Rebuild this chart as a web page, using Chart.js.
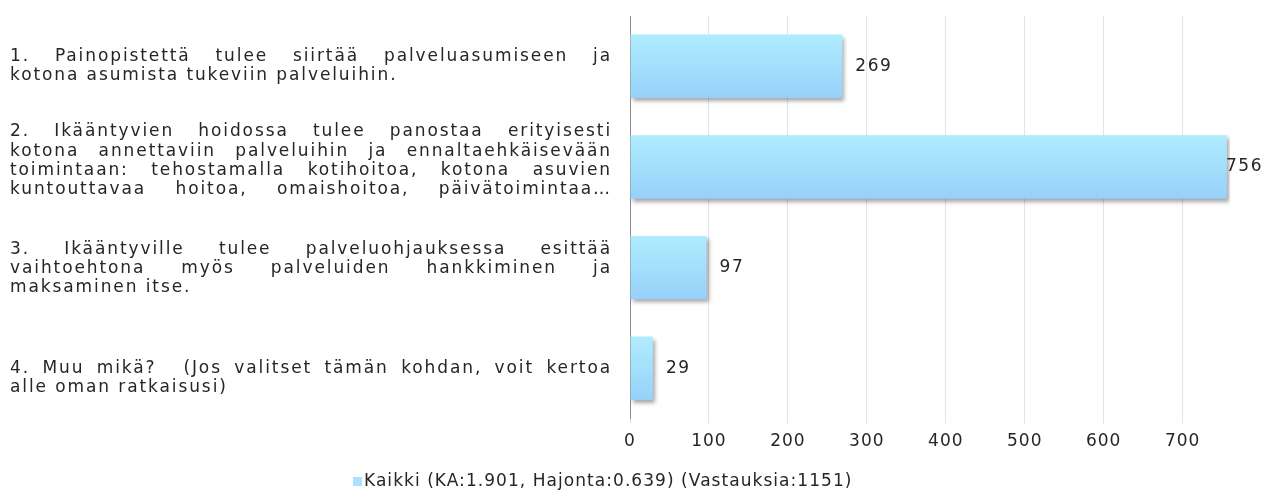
<!DOCTYPE html>
<html>
<head>
<meta charset="utf-8">
<script src="https://cdn.jsdelivr.net/npm/chart.js@4"></script>
<style>
  html, body { margin: 0; padding: 0; background: #fff; }
  #wrap { width: 1262px; height: 491px; }
</style>
</head>
<body>
<div id="wrap"><canvas id="chart"></canvas></div>
<script>
// category labels, one array of lines per answer option (as wrapped in the original)
const labelLines = [
    ['1. Painopistettä tulee siirtää palveluasumiseen ja',
     'kotona asumista tukeviin palveluihin.'],
    ['2. Ikääntyvien hoidossa tulee panostaa erityisesti',
     'kotona annettaviin palveluihin ja ennaltaehkäisevään',
     'toimintaan: tehostamalla kotihoitoa, kotona asuvien',
     'kuntouttavaa hoitoa, omaishoitoa, päivätoimintaa…'],
    ['3. Ikääntyville tulee palveluohjauksessa esittää',
     'vaihtoehtona myös palveluiden hankkiminen ja',
     'maksaminen itse.'],
    ['4. Muu mikä?   (Jos valitset tämän kohdan, voit kertoa',
     'alle oman ratkaisusi)']
];
// which lines are stretched to full width
const justified = [
    [true, false],
    [true, true, true, true],
    [true, true, false],
    [true, false]
];
const counts = [269, 756, 97, 29];
const seriesName = 'Kaikki (KA:1.901, Hajonta:0.639) (Vastauksia:1151)';
const xTicks = [0, 100, 200, 300, 400, 500, 600, 700];

const FONT = '"DejaVu Sans", Verdana, sans-serif';
const TEXT = '#262626';
const BAR_TOP = '#b0ecfe';
const BAR_BOTTOM = '#97d1fa';

// wide tracking like the original rendering, for every text chart.js draws
const tracking = {
    id: 'tracking',
    beforeDraw(chart) {
        chart.ctx.letterSpacing = '1px';
    }
};

// draws the long left labels as justified paragraphs
const justifiedLabels = {
    id: 'justifiedLabels',
    afterDraw(chart) {
        const ctx = chart.ctx;
        const y = chart.scales.y;
        const left = 10, right = 612, lh = 19.4;
        const shift = [0, -6, 1, 10];
        ctx.save();
        ctx.font = '17px ' + FONT;
        ctx.letterSpacing = '1.9px';
        ctx.wordSpacing = '4px';
        ctx.fillStyle = TEXT;
        ctx.textBaseline = 'middle';
        labelLines.forEach((lines, i) => {
            const cy = y.getPixelForValue(i) + shift[i];
            const top = cy - (lines.length - 1) * lh / 2;
            lines.forEach((line, j) => {
                const ly = top + j * lh;
                if (!justified[i][j]) {
                    ctx.fillText(line, left, ly);
                    return;
                }
                const parts = line.split(/( +)/);
                const words = parts.filter((w, k) => k % 2 === 0);
                const gaps = parts.filter((w, k) => k % 2 === 1).map(s => ctx.measureText(s).width);
                const widths = words.map(w => ctx.measureText(w).width);
                const used = widths.reduce((a, b) => a + b, 0) + gaps.reduce((a, b) => a + b, 0);
                const extra = (right - left - used) / gaps.length;
                let x = left;
                words.forEach((w, k) => {
                    ctx.fillText(w, x, ly);
                    if (k < gaps.length) x += widths[k] + gaps[k] + extra;
                });
            });
        });

        // legend: small box + series name
        const ly = 482;
        ctx.font = '17px ' + FONT;
        ctx.letterSpacing = '1.05px';
        ctx.wordSpacing = '0px';
        ctx.fillStyle = '#a9e3fc';
        ctx.fillRect(353, ly - 5, 9, 9);
        ctx.fillStyle = TEXT;
        ctx.fillText(seriesName, 364, ly);
        ctx.restore();
    }
};

// vertical gradient per bar + soft shadow
const barLook = {
    id: 'barLook',
    beforeDatasetDraw(chart, args) {
        const ctx = chart.ctx;
        args.meta.data.forEach(el => {
            const g = ctx.createLinearGradient(0, el.y - el.height / 2, 0, el.y + el.height / 2);
            g.addColorStop(0, BAR_TOP);
            g.addColorStop(1, BAR_BOTTOM);
            el.options = Object.assign({}, el.options, { backgroundColor: g });
        });
        ctx.save();
        ctx.shadowColor = 'rgba(0,0,0,0.35)';
        ctx.shadowBlur = 4;
        ctx.shadowOffsetX = 2;
        ctx.shadowOffsetY = 3;
    },
    afterDatasetDraw(chart) {
        chart.ctx.restore();
    }
};

// value labels right of the bars
const valueLabels = {
    id: 'valueLabels',
    afterDatasetsDraw(chart) {
        const ctx = chart.ctx;
        const meta = chart.getDatasetMeta(0);
        ctx.save();
        ctx.font = '17px ' + FONT;
        ctx.letterSpacing = '1.5px';
        ctx.fillStyle = TEXT;
        ctx.textBaseline = 'middle';
        meta.data.forEach((el, i) => {
            const txt = String(counts[i]);
            const w = ctx.measureText(txt).width;
            const x = Math.min(el.x + 13, chart.width - w + 1);
            ctx.fillText(txt, x, el.y);
        });
        ctx.restore();
    }
};

const ctx = document.getElementById('chart').getContext('2d');
new Chart(ctx, {
    type: 'bar',
    data: {
        labels: labelLines.map(l => l.join(' ')),
        datasets: [{
            label: seriesName,
            data: counts,
            backgroundColor: BAR_TOP,
            borderWidth: 0,
            categoryPercentage: 1,
            barPercentage: 0.63
        }]
    },
    options: {
        indexAxis: 'y',
        responsive: true,
        maintainAspectRatio: false,
        animation: false,
        layout: { padding: { top: 16, right: 32, left: 0, bottom: 31 } },
        scales: {
            x: {
                min: 0,
                max: 760,
                afterBuildTicks(scale) {
                    scale.ticks = xTicks.map(v => ({ value: v }));
                },
                grid: { color: '#dde4ef', lineWidth: 1, drawTicks: true, tickLength: 5 },
                border: { display: false },
                ticks: {
                    color: TEXT,
                    font: { family: FONT, size: 17 },
                    padding: 8,
                    maxRotation: 0
                }
            },
            y: {
                afterFit(scale) { scale.width = 630; },
                grid: { display: false },
                border: { color: '#8c8c8c', width: 1 },
                ticks: { display: false }
            }
        },
        plugins: {
            legend: { display: false },
            tooltip: { enabled: false }
        }
    },
    plugins: [tracking, barLook, valueLabels, justifiedLabels]
});
</script>
</body>
</html>
